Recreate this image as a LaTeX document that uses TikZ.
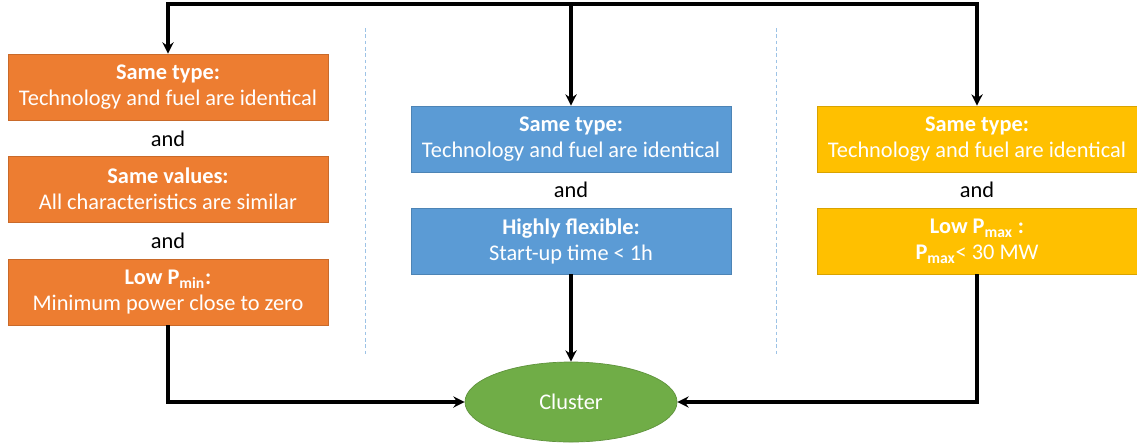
\documentclass[tikz,border=0pt]{standalone}
\usepackage{fontspec}
\setmainfont{Carlito}
\usetikzlibrary{arrows.meta,shapes.geometric}

\definecolor{orangebox}{HTML}{ED7D31}
\definecolor{bluebox}{HTML}{5B9BD5}
\definecolor{yellowbox}{HTML}{FFC000}
\definecolor{greenbox}{HTML}{70AD47}
\definecolor{seplight}{HTML}{9DC3E6}

\tikzset{
  cond/.style={rectangle, draw=#1!85!black, fill=#1, line width=0.5pt,
    minimum width=8cm, minimum height=1.65cm, inner sep=0pt,
    text=white, align=center, font=\fontsize{15.9}{18.5}\selectfont},
  andtxt/.style={font=\fontsize{15.9}{18.5}\selectfont},
  flow/.style={line width=2.3pt, -{Stealth[length=8pt,width=8pt]}},
  sep/.style={draw=seplight, line width=0.6pt, dash pattern=on 2.5pt off 2pt}
}

\begin{document}
\begin{tikzpicture}[x=0.025cm, y=-0.025cm]
  \useasboundingbox (0,0) rectangle (1137,443);

  % left column
  \node[cond=orangebox] (o1) at (168,87) {\textbf{Same type:}\\Technology and fuel are identical};
  \node[andtxt] (oa1) at (168,139) {and};
  \node[cond=orangebox] (o2) at (168,189) {\textbf{Same values:}\\All characteristics are similar};
  \node[andtxt] (oa2) at (168,241) {and};
  \node[cond=orangebox] (o3) at (168,292) {\textbf{Low P\textsubscript{min}:}\\Minimum power close to zero};

  % middle column
  \node[cond=bluebox] (b1) at (571,139) {\textbf{Same type:}\\Technology and fuel are identical};
  \node[andtxt] (ba1) at (571,190) {and};
  \node[cond=bluebox] (b2) at (571,241) {\textbf{Highly flexible:}\\Start-up time < 1h};

  % right column
  \node[cond=yellowbox] (y1) at (977,139) {\textbf{Same type:}\\Technology and fuel are identical};
  \node[andtxt] (ya1) at (977,190) {and};
  \node[cond=yellowbox] (y2) at (977,241) {\textbf{Low P\textsubscript{max} :}\\\textbf{P\textsubscript{max}}< 30 MW};

  % result
  \node[ellipse, draw=greenbox!85!black, fill=greenbox, line width=0.5pt,
    minimum width=5.3cm, minimum height=2cm, text=white,
    font=\fontsize{15.9}{18.5}\selectfont] (cl) at (571,402) {Cluster};

  % separators
  \draw[sep] (365,28) -- (365,357);
  \draw[sep] (776,28) -- (776,357);

  % connectors
  \coordinate (top) at (571,4);
  \draw[flow] (top) -| (o1);
  \draw[flow] (top) -| (y1);
  \draw[flow] (top) -- (b1);
  \draw[flow] (o3) |- (cl);
  \draw[flow] (y2) |- (cl);
  \draw[flow] (b2) -- (cl);
\end{tikzpicture}
\end{document}
